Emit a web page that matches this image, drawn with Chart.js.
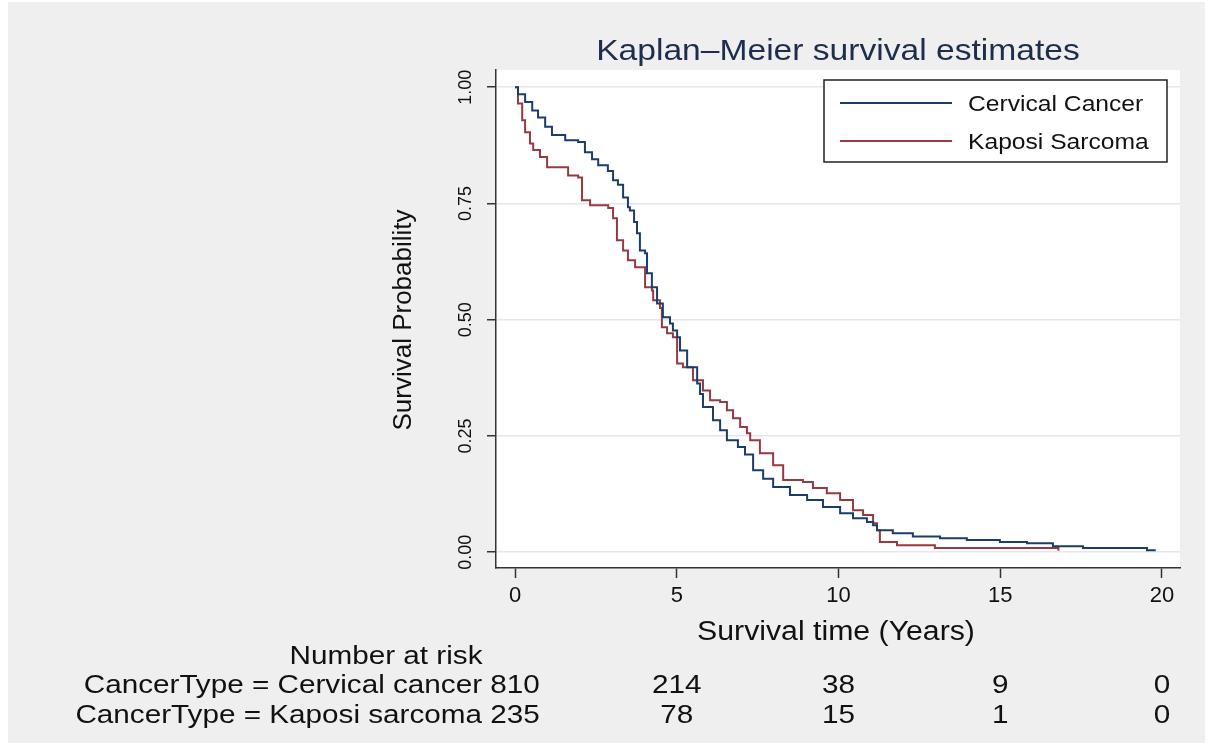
<!DOCTYPE html>
<html>
<head>
<meta charset="utf-8">
<title>Kaplan-Meier survival estimates</title>
<script src="https://cdn.jsdelivr.net/npm/chart.js@4.4.1/dist/chart.umd.min.js"></script>
<style>
    html, body { margin: 0; padding: 0; background: #ffffff; }
    #wrap { width: 1213px; height: 749px; }
</style>
</head>
<body>
<div id="wrap"><canvas id="km" width="1213" height="749"></canvas></div>
<script>
// Kaplan-Meier step points (time in years, survival after the step)
const cervicalTime = [0, 0.09, 0.31, 0.53, 0.71, 0.93, 1.14, 1.55, 1.95, 2.16,
    2.38, 2.57, 2.87, 3.03, 3.18, 3.34, 3.49, 3.55, 3.68, 3.77,
    3.86, 4.02, 4.08, 4.23, 4.39, 4.57, 4.79, 4.88, 5.01, 5.10,
    5.32, 5.63, 5.72, 5.81, 6.12, 6.34, 6.55, 6.89, 7.11, 7.36,
    7.67, 7.98, 8.50, 9.03, 9.52, 10.05, 10.45, 10.88, 11.07, 11.19,
    11.68, 12.30, 13.14, 13.97, 14.99, 15.83, 16.63, 17.56, 19.54, 19.78];
const cervicalSurv = [1, 0.985, 0.968, 0.95, 0.935, 0.915, 0.897, 0.886, 0.882, 0.86,
    0.845, 0.832, 0.82, 0.80, 0.79, 0.763, 0.742, 0.735, 0.71, 0.686,
    0.649, 0.643, 0.60, 0.57, 0.535, 0.505, 0.492, 0.477, 0.462, 0.434,
    0.398, 0.363, 0.34, 0.312, 0.284, 0.262, 0.241, 0.226, 0.21, 0.176,
    0.158, 0.14, 0.123, 0.112, 0.097, 0.084, 0.073, 0.065, 0.058, 0.047,
    0.041, 0.034, 0.030, 0.026, 0.022, 0.019, 0.013, 0.009, 0.004, 0.002];

const kaposiTime = [0, 0.09, 0.22, 0.31, 0.46, 0.56, 0.77, 0.99, 1.64, 1.95,
    2.07, 2.32, 2.88, 3.03, 3.15, 3.34, 3.49, 3.71, 4.02, 4.23,
    4.27, 4.48, 4.54, 4.70, 4.88, 5.01, 5.19, 5.50, 5.81, 6.03,
    6.34, 6.55, 6.74, 6.96, 7.17, 7.27, 7.57, 7.98, 8.29, 8.90,
    9.21, 9.64, 10.05, 10.45, 10.76, 11.07, 11.19, 11.28, 11.81, 12.98,
    16.80];
const kaposiSurv = [1, 0.965, 0.929, 0.903, 0.879, 0.865, 0.85, 0.828, 0.81, 0.806,
    0.757, 0.746, 0.74, 0.718, 0.671, 0.649, 0.628, 0.613, 0.57, 0.563,
    0.542, 0.525, 0.484, 0.471, 0.462, 0.406, 0.398, 0.37, 0.348, 0.327,
    0.323, 0.305, 0.288, 0.269, 0.256, 0.241, 0.213, 0.187, 0.155, 0.151,
    0.138, 0.127, 0.112, 0.09, 0.08, 0.062, 0.047, 0.022, 0.015, 0.009,
    0.003];

// axis ticks
const xTicks = [0, 5, 10, 15, 20];
const yTicks = [0, 0.25, 0.5, 0.75, 1];

// number at risk table
const riskTimes = [0, 5, 10, 15, 20];
const riskLabels = ['CancerType = Cervical cancer', 'CancerType = Kaposi sarcoma'];
const cervicalRisk = [810, 214, 38, 9, 0];
const kaposiRisk = [235, 78, 15, 1, 0];

const FONT = '"Liberation Sans", Arial, sans-serif';
const SX = 1.12; // the picture's horizontal text is a little wide

function toPoints(times, surv) {
    return times.map((t, i) => ({ x: t, y: surv[i] }));
}

// draw horizontally stretched text
function wideText(ctx, text, x, y, align, size, color) {
    ctx.save();
    ctx.font = size + 'px ' + FONT;
    ctx.fillStyle = color;
    ctx.textAlign = align;
    ctx.textBaseline = 'alphabetic';
    ctx.translate(x, y);
    ctx.scale(SX, 1);
    ctx.fillText(text, 0, 0);
    ctx.restore();
}

const kmFrame = {
    id: 'kmFrame',
    beforeDraw(chart) {
        const ctx = chart.ctx;
        const a = chart.chartArea;
        ctx.save();
        ctx.fillStyle = '#ffffff';
        ctx.fillRect(0, 0, chart.width, chart.height);
        ctx.fillStyle = '#efefef';
        ctx.fillRect(8, 2, chart.width - 16, chart.height - 8);
        ctx.fillStyle = '#ffffff';
        ctx.fillRect(a.left, a.top, a.right - a.left, a.bottom - a.top);
        ctx.restore();
    },
    afterDraw(chart) {
        const ctx = chart.ctx;
        const a = chart.chartArea;
        const xs = chart.scales.x;
        const cx = (a.left + a.right) / 2;

        // title
        wideText(ctx, 'Kaplan\u2013Meier survival estimates', cx, 60, 'center', 30, '#1e2d4c');

        // y axis title
        ctx.save();
        ctx.translate(404, 320);
        ctx.rotate(-Math.PI / 2);
        ctx.font = '26px ' + FONT;
        ctx.fillStyle = '#111111';
        ctx.textAlign = 'center';
        ctx.textBaseline = 'middle';
        ctx.fillText('Survival Probability', 0, 0);
        ctx.restore();

        // x axis title
        wideText(ctx, 'Survival time (Years)', 836, 640, 'center', 27, '#111111');

        // legend box
        const lg = { left: 824, top: 80, right: 1167, bottom: 162 };
        ctx.save();
        ctx.fillStyle = '#ffffff';
        ctx.fillRect(lg.left, lg.top, lg.right - lg.left, lg.bottom - lg.top);
        ctx.strokeStyle = '#222222';
        ctx.lineWidth = 1.5;
        ctx.strokeRect(lg.left, lg.top, lg.right - lg.left, lg.bottom - lg.top);
        chart.data.datasets.forEach((ds, i) => {
            const y = 103 + i * 38;
            ctx.strokeStyle = ds.borderColor;
            ctx.lineWidth = 2;
            ctx.beginPath();
            ctx.moveTo(840, y);
            ctx.lineTo(952, y);
            ctx.stroke();
            wideText(ctx, ds.label, 968, y + 8, 'left', 22, '#111111');
        });
        ctx.restore();

        // number at risk
        wideText(ctx, 'Number at risk', 386, 664, 'center', 26.5, '#111111');
        const rows = [cervicalRisk, kaposiRisk];
        rows.forEach((vals, r) => {
            const y = 693 + r * 30;
            ctx.save();
            ctx.font = '26.5px ' + FONT;
            const firstW = ctx.measureText(String(vals[0])).width * SX;
            const spaceW = ctx.measureText(' ').width * SX;
            ctx.restore();
            const x0 = xs.getPixelForValue(riskTimes[0]);
            wideText(ctx, riskLabels[r], x0 - firstW / 2 - spaceW, y, 'right', 26.5, '#111111');
            vals.forEach((v, i) => {
                wideText(ctx, String(v), xs.getPixelForValue(riskTimes[i]), y, 'center', 26.5, '#111111');
            });
        });
    }
};

const ctx = document.getElementById('km').getContext('2d');
new Chart(ctx, {
    type: 'line',
    data: {
        datasets: [
            {
                label: 'Cervical Cancer',
                data: toPoints(cervicalTime, cervicalSurv),
                borderColor: '#1a3d6d',
                borderWidth: 2,
                stepped: true,
                pointRadius: 0,
                fill: false
            },
            {
                label: 'Kaposi Sarcoma',
                data: toPoints(kaposiTime, kaposiSurv),
                borderColor: '#953a40',
                borderWidth: 2,
                stepped: true,
                pointRadius: 0,
                fill: false
            }
        ]
    },
    options: {
        responsive: false,
        animation: false,
        devicePixelRatio: 1,
        layout: { padding: { left: 0, right: 33, top: 70, bottom: 136 } },
        plugins: {
            legend: { display: false },
            title: { display: false },
            tooltip: { enabled: false }
        },
        scales: {
            x: {
                type: 'linear',
                min: -0.59,
                max: 20.56,
                afterBuildTicks: (axis) => { axis.ticks = xTicks.map(v => ({ value: v })); },
                afterFit: (scale) => { scale.height = 45; },
                border: { display: true, color: '#333333', width: 1.5 },
                grid: { drawOnChartArea: false, drawTicks: true, tickLength: 10, tickColor: '#333333', tickWidth: 1.5 },
                ticks: {
                    font: { family: FONT, size: 22 },
                    color: '#111111',
                    padding: 5,
                    maxRotation: 0,
                    callback: (v) => String(v)
                }
            },
            y: {
                type: 'linear',
                min: -0.034,
                max: 1.037,
                afterBuildTicks: (axis) => { axis.ticks = yTicks.map(v => ({ value: v })); },
                afterFit: (scale) => { scale.width = 496; },
                border: { display: true, color: '#333333', width: 1.5 },
                grid: { color: '#e3e6ee', lineWidth: 1.5, drawTicks: true, tickLength: 9, tickColor: '#333333', tickWidth: 1.5 },
                ticks: {
                    font: { family: FONT, size: 18 },
                    color: '#111111',
                    minRotation: 90,
                    maxRotation: 90,
                    crossAlign: 'center',
                    padding: 3,
                    callback: (v) => v.toFixed(2)
                }
            }
        }
    },
    plugins: [kmFrame]
});
</script>
</body>
</html>
